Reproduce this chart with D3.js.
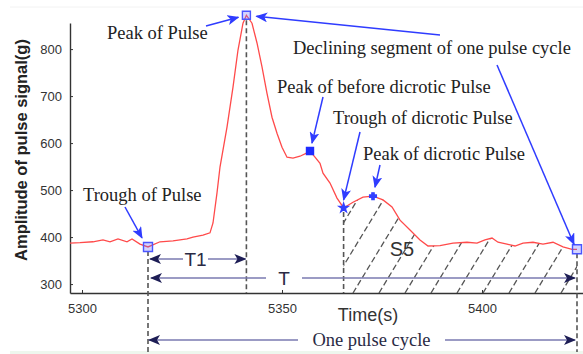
<!DOCTYPE html>
<html>
<head>
<meta charset="utf-8">
<script src="https://cdn.jsdelivr.net/npm/d3@7"></script>
<style>
  body { margin: 0; background: #fff; }
  svg { display: block; }
  .tick text { font-family: "Liberation Sans", Arial, sans-serif; font-size: 13px; fill: #333; }
  .ann { font-family: "Liberation Serif", "Times New Roman", serif; font-size: 18.5px; fill: #222; }
</style>
</head>
<body>
<svg id="chart" width="583" height="354"></svg>
<script>
// pulse trace
const time = [5297, 5299.5, 5302.75, 5305.25, 5307, 5309, 5311.25, 5312.5, 5314.5, 5316.5,
  5319.5, 5322.75, 5326.25, 5327.75, 5330.25, 5332, 5332.75, 5333.75, 5334.5, 5336.25,
  5337.75, 5339, 5340.25, 5341.1, 5342.5, 5343.75, 5345, 5346.25, 5347.5, 5348.75,
  5350, 5351.25, 5352.75, 5354.5, 5356.25, 5357, 5358.25, 5359.5, 5360.25, 5362,
  5363.75, 5365.4, 5367.75, 5370.25, 5372.75, 5375.25, 5377.5, 5379.5, 5382, 5384.5,
  5386.5, 5389.5, 5392.75, 5396.25, 5398.75, 5400.75, 5402.5, 5404, 5406.25, 5408.25,
  5410.25, 5412.75, 5415.25, 5417.75, 5420.25, 5422.5, 5423.75]
const amplitude = [387, 388, 390, 394, 390, 396, 390, 396, 385, 379,
  390, 392, 396, 400, 404, 409, 430, 494, 549, 634,
  719, 798, 855, 872, 855, 813, 762, 706, 655, 621,
  591, 570, 568, 572, 579, 583, 570, 557, 536, 515,
  483, 462, 474, 485, 487, 479, 464, 436, 415, 394,
  381, 382, 387, 389, 387, 394, 398, 389, 385, 381,
  387, 389, 385, 389, 379, 374, 374]

// key points of the cycle
const keyTime = [5316.5, 5341.1, 5357, 5365.4, 5372.75, 5423.75]
const keyAmp = [379, 872, 583, 462, 487, 374]

const xTicks = [5300, 5350, 5400]
const yTicks = [300, 400, 500, 600, 700, 800]

var svg = d3.select("#chart")

var x = d3.scaleLinear().domain([5297, 5425.25]).range([70, 583])
var y = d3.scaleLinear().domain([281, 855.5]).range([293, 23])

// faint page edges like the scan
svg.append("line").attr("x1", 10).attr("x2", 583).attr("y1", 7).attr("y2", 7)
  .attr("stroke", "#f2f2f2").attr("stroke-width", 1)
svg.append("rect").attr("x", 10).attr("y", 351).attr("width", 573).attr("height", 3)
  .attr("fill", "#eef7ee")

var defs = svg.append("defs")
function arrowMarker(id, color) {
  defs.append("marker")
    .attr("id", id)
    .attr("viewBox", "0 0 12 10")
    .attr("refX", 11).attr("refY", 5)
    .attr("markerWidth", 12).attr("markerHeight", 10)
    .attr("markerUnits", "userSpaceOnUse")
    .attr("orient", "auto-start-reverse")
    .append("path")
    .attr("d", "M0,0 L12,5 L0,10 L3,5 Z")
    .attr("fill", color)
}
arrowMarker("blueArrow", "#2f3cff")
arrowMarker("navyArrow", "#1d1d55")

// axes
var yAxis = svg.append("g")
  .attr("transform", "translate(70,0)")
  .call(d3.axisLeft(y).tickValues(yTicks).tickSizeInner(-3).tickSizeOuter(0).tickPadding(8))
var xAxis = svg.append("g")
  .attr("transform", "translate(0,293)")
  .call(d3.axisBottom(x).tickValues(xTicks).tickFormat(d3.format("d")).tickSizeInner(-3).tickSizeOuter(0).tickPadding(11))
svg.selectAll(".domain").attr("stroke", "#333").attr("stroke-width", 1.4)
svg.selectAll(".tick line").attr("stroke", "#333")

svg.append("text")
  .attr("transform", "translate(21,150) rotate(-90)")
  .attr("text-anchor", "middle")
  .attr("dominant-baseline", "central")
  .attr("font-family", "Liberation Sans, Arial, sans-serif")
  .attr("font-size", "16.5px")
  .attr("font-weight", "bold")
  .attr("fill", "#222")
  .text("Amplitude of pulse signal(g)")

svg.append("text")
  .attr("x", 368).attr("y", 315)
  .attr("text-anchor", "middle").attr("dominant-baseline", "central")
  .attr("font-family", "Liberation Sans, Arial, sans-serif")
  .attr("font-size", "18px").attr("fill", "#333")
  .text("Time(s)")

// hatched area S5 under the curve, from dicrotic trough to the end
var pts = time.map((t, i) => [t, amplitude[i]])
var s5 = pts.filter((p) => p[0] >= keyTime[3] && p[0] <= keyTime[5])
var area = d3.area().x((d) => x(d[0])).y0(293).y1((d) => y(d[1]))
defs.append("clipPath").attr("id", "s5clip")
  .append("path").attr("d", area(s5))

var hatch = svg.append("g").attr("clip-path", "url(#s5clip)")
for (var bx = 223; bx < 640; bx += 26) {
  hatch.append("line")
    .attr("x1", bx).attr("y1", 293)
    .attr("x2", bx + 293 / 1.65).attr("y2", 0)
    .attr("stroke", "#555").attr("stroke-width", 1.3)
    .attr("stroke-dasharray", "6,3")
}

// dashed guides
function vdash(xv, y1, y2) {
  svg.append("line")
    .attr("x1", xv).attr("x2", xv).attr("y1", y1).attr("y2", y2)
    .attr("stroke", "#555").attr("stroke-width", 1.6)
    .attr("stroke-dasharray", "5,3")
}
vdash(x(keyTime[0]), y(keyAmp[0]) + 4, 352)
vdash(x(keyTime[1]), y(keyAmp[1]) + 5, 293)
vdash(x(keyTime[3]), y(keyAmp[3]) + 4, 293)
vdash(x(keyTime[5]), y(keyAmp[5]) + 4, 352)

// pulse curve
svg.append("path")
  .datum(pts)
  .attr("fill", "none")
  .attr("stroke", "#ff4a4a")
  .attr("stroke-width", 1.3)
  .attr("d", d3.line().x((d) => x(d[0])).y((d) => y(d[1])))

// key point markers
var markerStyle = [
  {size: 9, fill: "rgba(110,110,255,0.3)", stroke: "#4a55ff", shape: d3.symbolSquare},
  {size: 8, fill: "rgba(110,110,255,0.3)", stroke: "#4a55ff", shape: d3.symbolSquare},
  {size: 7, fill: "#1f2cff", stroke: "#1f2cff", shape: d3.symbolSquare},
  {size: 5, fill: "#3340ff", stroke: "#3340ff", shape: d3.symbolStar},
  {size: 5, fill: "#3340ff", stroke: "#3340ff", shape: d3.symbolCross},
  {size: 9, fill: "rgba(110,110,255,0.3)", stroke: "#4a55ff", shape: d3.symbolSquare}
]
svg.selectAll(".key")
  .data(keyTime)
  .enter().append("path")
  .attr("class", "key")
  .attr("transform", (d, i) => "translate(" + x(d) + "," + y(keyAmp[i]) + ")")
  .attr("d", (d, i) => d3.symbol().type(markerStyle[i].shape).size(markerStyle[i].size * markerStyle[i].size)())
  .attr("fill", (d, i) => markerStyle[i].fill)
  .attr("stroke", (d, i) => markerStyle[i].stroke)
  .attr("stroke-width", 1.4)

// annotations: text, arrow start, index of key point, offset of arrow tip
var notes = [
  {text: "Trough of Pulse", tx: 83, ty: 195, from: [125, 207], key: 0, off: [-6, -9]},
  {text: "Peak of Pulse", tx: 107, ty: 33, from: [206, 26], key: 1, off: [-8, 2]},
  {text: "Peak of before dicrotic Pulse", tx: 277, ty: 87, from: [323, 97], key: 2, off: [2, -8]},
  {text: "Trough of dicrotic Pulse", tx: 333, ty: 118, from: [360, 132], key: 3, off: [0, -8]},
  {text: "Peak of dicrotic Pulse", tx: 363, ty: 154, from: [380, 165], key: 4, off: [2, -9]}
]
notes.forEach(function (n) {
  svg.append("text").attr("class", "ann")
    .attr("x", n.tx).attr("y", n.ty)
    .attr("dominant-baseline", "central")
    .text(n.text)
  svg.append("line")
    .attr("x1", n.from[0]).attr("y1", n.from[1])
    .attr("x2", x(keyTime[n.key]) + n.off[0]).attr("y2", y(keyAmp[n.key]) + n.off[1])
    .attr("stroke", "#2f3cff").attr("stroke-width", 1.5)
    .attr("marker-end", "url(#blueArrow)")
})
svg.append("text").attr("class", "ann")
  .attr("x", 293).attr("y", 48)
  .attr("dominant-baseline", "central")
  .text("Declining segment of one pulse cycle")
svg.append("line")
  .attr("x1", 440).attr("y1", 35)
  .attr("x2", x(keyTime[1]) + 10).attr("y2", y(keyAmp[1]) + 1)
  .attr("stroke", "#2f3cff").attr("stroke-width", 1.5)
  .attr("marker-end", "url(#blueArrow)")
svg.append("line")
  .attr("x1", 497).attr("y1", 65)
  .attr("x2", x(keyTime[5]) - 3).attr("y2", y(keyAmp[5]) - 5)
  .attr("stroke", "#2f3cff").attr("stroke-width", 1.5)
  .attr("marker-end", "url(#blueArrow)")

// span arrows (T1, T, one pulse cycle)
function span(x1, x2, yy, g1, g2, label, font) {
  svg.append("line")
    .attr("x1", g1).attr("x2", x1).attr("y1", yy).attr("y2", yy)
    .attr("stroke", "#7a7ab0").attr("stroke-width", 1.6)
    .attr("marker-end", "url(#navyArrow)")
  svg.append("line")
    .attr("x1", g2).attr("x2", x2).attr("y1", yy).attr("y2", yy)
    .attr("stroke", "#7a7ab0").attr("stroke-width", 1.6)
    .attr("marker-end", "url(#navyArrow)")
  svg.append("text")
    .attr("x", (g1 + g2) / 2).attr("y", yy)
    .attr("text-anchor", "middle").attr("dominant-baseline", "central")
    .attr("font-family", font.family).attr("font-size", font.size)
    .attr("fill", "#2a2a44")
    .text(label)
}
var sans = {family: "Liberation Sans, Arial, sans-serif", size: "19px"}
span(x(keyTime[0]) + 2, x(keyTime[1]) - 1, 259, 183, 208, "T1", sans)
span(x(keyTime[0]) + 3, x(keyTime[5]) - 2, 278, 266, 302, "T", sans)
span(x(keyTime[0]) + 1, x(keyTime[5]) - 2, 340, 298, 445, "One pulse cycle",
  {family: "Liberation Serif, Times New Roman, serif", size: "18.5px"})

svg.append("text")
  .attr("x", 402).attr("y", 249)
  .attr("text-anchor", "middle").attr("dominant-baseline", "central")
  .attr("font-family", "Liberation Sans, Arial, sans-serif")
  .attr("font-size", "20px").attr("fill", "#333")
  .text("S5")
</script>
</body>
</html>
